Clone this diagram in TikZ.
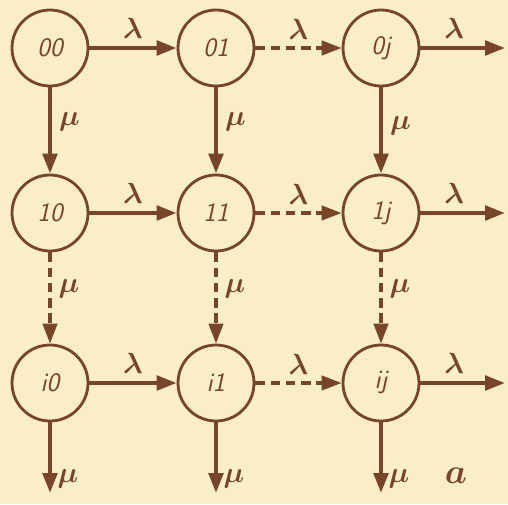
\documentclass[tikz,border=0pt]{standalone}
\usepackage{tikz}
\usetikzlibrary{arrows.meta,positioning}
\definecolor{paper}{HTML}{F9EEC8}
\definecolor{ink}{HTML}{774629}

\begin{document}
\begin{tikzpicture}[
  font=\fontsize{19}{22}\selectfont\sffamily\itshape,
  state/.style={circle,draw=ink,line width=2pt,minimum size=1.9cm,inner sep=0pt,text=ink},
  fl/.style={-{Triangle[length=5mm,width=3.6mm]},ink,line width=3pt},
  dfl/.style={fl,line width=2.2pt,dash pattern=on 2.4mm off 1.4mm},
  lab/.style={text=ink,font=\fontsize{20}{22}\selectfont\boldmath,inner sep=2pt}]
\fill[paper] (0,0) rectangle (12.7,12.6);
\useasboundingbox (0,0) rectangle (12.7,12.6);
% states
\node[state] (s00) at (1.25,11.4) {00};
\node[state] (s01) at (5.4,11.4) {01};
\node[state] (s0j) at (9.525,11.4) {0j};
\node[state] (s10) at (1.25,7.275) {10};
\node[state] (s11) at (5.4,7.275) {11};
\node[state] (s1j) at (9.525,7.275) {1j};
\node[state] (si0) at (1.25,3.025) {i0};
\node[state] (si1) at (5.4,3.025) {i1};
\node[state] (sij) at (9.525,3.025) {ij};
% free ends
\coordinate (e0) at (12.625,11.4);
\coordinate (e1) at (12.625,7.275);
\coordinate (e2) at (12.625,3.025);
\coordinate (b0) at (1.25,0.275);
\coordinate (b1) at (5.4,0.275);
\coordinate (b2) at (9.525,0.275);
% lambda
\draw[fl] (s00) -- node[lab,above=3pt] {$\lambda$} (s01);
\draw[dfl] (s01) -- node[lab,above=3pt] {$\lambda$} (s0j);
\draw[fl] (s0j) -- node[lab,above=3pt,pos=0.4] {$\lambda$} (e0);
\draw[fl] (s10) -- node[lab,above=3pt] {$\lambda$} (s11);
\draw[dfl] (s11) -- node[lab,above=3pt] {$\lambda$} (s1j);
\draw[fl] (s1j) -- node[lab,above=3pt,pos=0.4] {$\lambda$} (e1);
\draw[fl] (si0) -- node[lab,above=3pt] {$\lambda$} (si1);
\draw[dfl] (si1) -- node[lab,above=3pt] {$\lambda$} (sij);
\draw[fl] (sij) -- node[lab,above=3pt,pos=0.4] {$\lambda$} (e2);
% mu
\draw[fl] (s00) -- node[lab,right=3pt,pos=0.4] {$\mu$} (s10);
\draw[fl] (s01) -- node[lab,right=3pt,pos=0.4] {$\mu$} (s11);
\draw[fl] (s0j) -- node[lab,right=3pt,pos=0.45] {$\mu$} (s1j);
\draw[dfl] (s10) -- node[lab,right=3pt,pos=0.4] {$\mu$} (si0);
\draw[dfl] (s11) -- node[lab,right=3pt,pos=0.4] {$\mu$} (si1);
\draw[dfl] (s1j) -- node[lab,right=3pt,pos=0.4] {$\mu$} (sij);
\draw[fl] (si0) -- node[lab,right=2pt,pos=0.8] {$\mu$} (b0);
\draw[fl] (si1) -- node[lab,right=2pt,pos=0.8] {$\mu$} (b1);
\draw[fl] (sij) -- node[lab,right=2pt,pos=0.8] {$\mu$} (b2);
\node[lab,font=\fontsize{26}{28}\selectfont\boldmath] (tag) at (11.4,0.7) {$a$};
\end{tikzpicture}
\end{document}
